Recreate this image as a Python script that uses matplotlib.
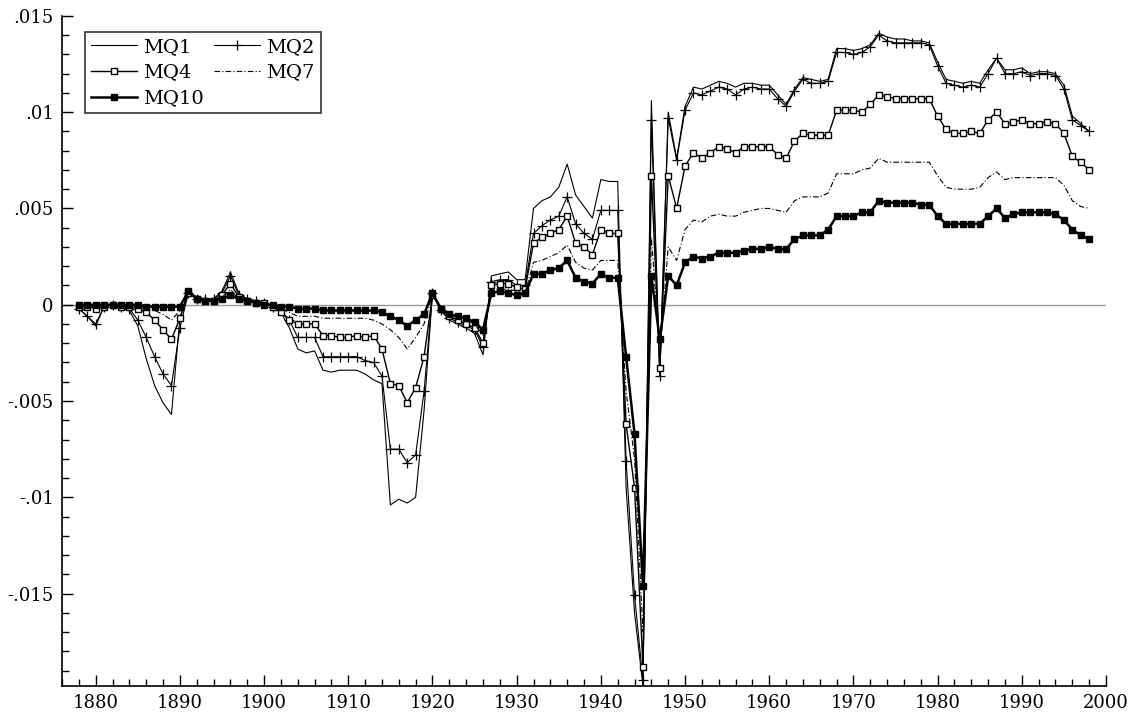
import numpy as np
import matplotlib
matplotlib.use("Agg")
import matplotlib.pyplot as plt
from matplotlib.ticker import MultipleLocator

plt.rcParams['font.family'] = ['DejaVu Serif']

years = np.arange(1878, 1999)

mq1 = [
    -0.0002, -0.0006, -0.0011, -0.0001, 0.0000, -0.0001, -0.0003, -0.0011, -0.0028, -0.0042,  # 1878-1887
    -0.0051, -0.0057, -0.0007, 0.0007, 0.0004, 0.0003, 0.0003, 0.0007, 0.0017, 0.0006,  # 1888-1897
    0.0003, 0.0002, 0.0001, -0.0001, -0.0004, -0.0012, -0.0023, -0.0025, -0.0024, -0.0034,  # 1898-1907
    -0.0035, -0.0034, -0.0034, -0.0034, -0.0036, -0.0039, -0.0041, -0.0104, -0.0101, -0.0103,  # 1908-1917
    -0.0100, -0.0055, 0.0006, -0.0003, -0.0008, -0.0010, -0.0012, -0.0015, -0.0026, 0.0015,  # 1918-1927
    0.0016, 0.0017, 0.0013, 0.0013, 0.0050, 0.0054, 0.0056, 0.0061, 0.0073, 0.0057,  # 1928-1937
    0.0051, 0.0045, 0.0065, 0.0064, 0.0064, -0.0095, -0.0160, -0.0198, 0.0106, -0.0037,  # 1938-1947
    0.0100, 0.0076, 0.0103, 0.0113, 0.0112, 0.0114, 0.0116, 0.0115, 0.0113, 0.0115,  # 1948-1957
    0.0115, 0.0114, 0.0114, 0.0109, 0.0104, 0.0112, 0.0118, 0.0117, 0.0116, 0.0117,  # 1958-1967
    0.0133, 0.0133, 0.0132, 0.0133, 0.0135, 0.0141, 0.0139, 0.0138, 0.0138, 0.0137,  # 1968-1977
    0.0137, 0.0136, 0.0126, 0.0117, 0.0116, 0.0115, 0.0116, 0.0115, 0.0122, 0.0128,  # 1978-1987
    0.0122, 0.0122, 0.0123, 0.0120, 0.0121, 0.0121, 0.0120, 0.0114, 0.0098, 0.0094,  # 1988-1997
    0.0090,
]

mq2 = [
    -0.0002, -0.0006, -0.0010, -0.0001, 0.0000, -0.0001, -0.0002, -0.0008, -0.0017, -0.0027,
    -0.0036, -0.0042, -0.0012, 0.0006, 0.0003, 0.0003, 0.0003, 0.0006, 0.0015, 0.0005,
    0.0003, 0.0002, 0.0001, -0.0001, -0.0003, -0.0008, -0.0017, -0.0017, -0.0017, -0.0027,
    -0.0027, -0.0027, -0.0027, -0.0027, -0.0029, -0.0030, -0.0037, -0.0075, -0.0075, -0.0082,
    -0.0078, -0.0045, 0.0006, -0.0003, -0.0007, -0.0009, -0.0011, -0.0013, -0.0022, 0.0012,
    0.0013, 0.0013, 0.0010, 0.0010, 0.0037, 0.0041, 0.0044, 0.0046, 0.0056, 0.0042,
    0.0037, 0.0034, 0.0049, 0.0049, 0.0049, -0.0081, -0.0151, -0.0195, 0.0096, -0.0037,
    0.0097, 0.0075, 0.0101, 0.0110, 0.0109, 0.0111, 0.0113, 0.0112, 0.0109, 0.0112,
    0.0113, 0.0112, 0.0112, 0.0107, 0.0103, 0.0111, 0.0117, 0.0115, 0.0115, 0.0116,
    0.0131, 0.0131, 0.0130, 0.0131, 0.0134, 0.0140, 0.0137, 0.0136, 0.0136, 0.0136,
    0.0136, 0.0135, 0.0124, 0.0115, 0.0114, 0.0113, 0.0114, 0.0113, 0.0120, 0.0128,
    0.0120, 0.0120, 0.0121, 0.0119, 0.0120, 0.0120, 0.0119, 0.0112, 0.0096, 0.0093,
    0.0090,
]

mq4 = [
    -0.0001, -0.0001, -0.0002, -0.0001, 0.0000, -0.0001, -0.0001, -0.0002, -0.0004, -0.0008,
    -0.0013, -0.0018, -0.0007, 0.0006, 0.0003, 0.0002, 0.0002, 0.0005, 0.0011, 0.0004,
    0.0002, 0.0001, 0.0001, -0.0001, -0.0004, -0.0008, -0.0010, -0.0010, -0.0010, -0.0016,
    -0.0016, -0.0017, -0.0017, -0.0016, -0.0017, -0.0016, -0.0023, -0.0041, -0.0042, -0.0051,
    -0.0043, -0.0027, 0.0005, -0.0002, -0.0006, -0.0008, -0.0010, -0.0012, -0.0020, 0.0010,
    0.0011, 0.0011, 0.0009, 0.0008, 0.0032, 0.0035, 0.0037, 0.0039, 0.0046, 0.0032,
    0.0030, 0.0026, 0.0039, 0.0037, 0.0037, -0.0062, -0.0095, -0.0188, 0.0067, -0.0033,
    0.0067, 0.0050, 0.0072, 0.0079, 0.0076, 0.0079, 0.0082, 0.0081, 0.0079, 0.0082,
    0.0082, 0.0082, 0.0082, 0.0078, 0.0076, 0.0085, 0.0089, 0.0088, 0.0088, 0.0088,
    0.0101, 0.0101, 0.0101, 0.0100, 0.0104, 0.0109, 0.0108, 0.0107, 0.0107, 0.0107,
    0.0107, 0.0107, 0.0098, 0.0091, 0.0089, 0.0089, 0.0090, 0.0089, 0.0096, 0.0100,
    0.0094, 0.0095, 0.0096, 0.0094, 0.0094, 0.0095, 0.0094, 0.0089, 0.0077, 0.0074,
    0.0070,
]

mq7 = [
    0.0000, -0.0001, -0.0001, 0.0000, 0.0000, 0.0000, -0.0001, -0.0001, -0.0002, -0.0003,
    -0.0005, -0.0008, -0.0003, 0.0006, 0.0003, 0.0002, 0.0002, 0.0004, 0.0008, 0.0003,
    0.0002, 0.0001, 0.0000, -0.0001, -0.0002, -0.0004, -0.0006, -0.0006, -0.0006, -0.0007,
    -0.0007, -0.0007, -0.0007, -0.0007, -0.0007, -0.0008, -0.0010, -0.0013, -0.0017, -0.0023,
    -0.0017, -0.0010, 0.0005, -0.0002, -0.0005, -0.0007, -0.0008, -0.0010, -0.0016, 0.0008,
    0.0008, 0.0008, 0.0007, 0.0006, 0.0022, 0.0023, 0.0025, 0.0027, 0.0031, 0.0022,
    0.0019, 0.0018, 0.0023, 0.0023, 0.0023, -0.0045, -0.0080, -0.0170, 0.0035, -0.0025,
    0.0030, 0.0023, 0.0039, 0.0044, 0.0043, 0.0046, 0.0047, 0.0046, 0.0046, 0.0048,
    0.0049, 0.0050, 0.0050, 0.0049, 0.0048, 0.0054, 0.0056, 0.0056, 0.0056, 0.0058,
    0.0068, 0.0068, 0.0068, 0.0070, 0.0071, 0.0076, 0.0074, 0.0074, 0.0074, 0.0074,
    0.0074, 0.0074, 0.0067, 0.0061, 0.0060, 0.0060, 0.0060, 0.0061, 0.0066, 0.0069,
    0.0065, 0.0066, 0.0066, 0.0066, 0.0066, 0.0066, 0.0066, 0.0062, 0.0054, 0.0051,
    0.0050,
]

mq10 = [
    0.0000, 0.0000, 0.0000, 0.0000, 0.0000, 0.0000, 0.0000, 0.0000, -0.0001, -0.0001,
    -0.0001, -0.0001, -0.0001, 0.0007, 0.0003, 0.0002, 0.0002, 0.0003, 0.0005, 0.0003,
    0.0002, 0.0001, 0.0000, 0.0000, -0.0001, -0.0001, -0.0002, -0.0002, -0.0002, -0.0003,
    -0.0003, -0.0003, -0.0003, -0.0003, -0.0003, -0.0003, -0.0004, -0.0006, -0.0008, -0.0011,
    -0.0008, -0.0005, 0.0006, -0.0002, -0.0005, -0.0006, -0.0007, -0.0009, -0.0013, 0.0006,
    0.0007, 0.0006, 0.0005, 0.0006, 0.0016, 0.0016, 0.0018, 0.0019, 0.0023, 0.0014,
    0.0012, 0.0011, 0.0016, 0.0014, 0.0014, -0.0027, -0.0067, -0.0146, 0.0015, -0.0018,
    0.0015, 0.0010, 0.0022, 0.0025, 0.0024, 0.0025, 0.0027, 0.0027, 0.0027, 0.0028,
    0.0029, 0.0029, 0.0030, 0.0029, 0.0029, 0.0034, 0.0036, 0.0036, 0.0036, 0.0039,
    0.0046, 0.0046, 0.0046, 0.0048, 0.0048, 0.0054, 0.0053, 0.0053, 0.0053, 0.0053,
    0.0052, 0.0052, 0.0046, 0.0042, 0.0042, 0.0042, 0.0042, 0.0042, 0.0046, 0.0050,
    0.0045, 0.0047, 0.0048, 0.0048, 0.0048, 0.0048, 0.0047, 0.0044, 0.0039, 0.0036,
    0.0034,
]

ytick_vals = [-0.015, -0.01, -0.005, 0, 0.005, 0.01, 0.015]
ytick_labels = ['-.015', '-.01', '-.005', '0', '.005', '.01', '.015']
xtick_vals = list(range(1880, 2001, 10))

fig = plt.figure(figsize=(11.36, 7.22), dpi=100)
ax = fig.add_axes([0.0546, 0.0499, 0.919, 0.9281])

ax.axhline(0, color='#999999', lw=1.0, zorder=1)

l1, = ax.plot(years, mq1, color='k', lw=0.8, label='MQ1')
l2, = ax.plot(years, mq2, color='k', lw=0.8, marker='+', ms=7, mew=0.9, label='MQ2')
l4, = ax.plot(years, mq4, color='k', lw=1.0, marker='s', ms=4.5, mfc='white', mew=1.0, label='MQ4')
l7, = ax.plot(years, mq7, color='k', lw=0.8, dashes=(5, 2, 1, 2), label='MQ7')
l10, = ax.plot(years, mq10, color='k', lw=1.8, marker='s', ms=4.5, label='MQ10')

ax.set_xlim(1876, 2000)
ax.set_ylim(-0.0198, 0.015)

ax.set_xticks(xtick_vals)
ax.xaxis.set_minor_locator(MultipleLocator(2))
ax.set_yticks(ytick_vals)
ax.set_yticklabels(ytick_labels)
ax.yaxis.set_minor_locator(MultipleLocator(0.001))

ax.tick_params(which='major', direction='in', length=8, width=1, labelsize=13, pad=6)
ax.tick_params(which='minor', direction='in', length=5, width=1)

for side in ['top', 'right']:
    ax.spines[side].set_visible(False)
for side in ['left', 'bottom']:
    ax.spines[side].set_linewidth(1.2)

leg = ax.legend([l1, l4, l10, l2, l7], ['MQ1', 'MQ4', 'MQ10', 'MQ2', 'MQ7'],
                ncol=2, loc='upper left', bbox_to_anchor=(0.022, 0.976),
                fontsize=14, frameon=True, fancybox=False, edgecolor='k',
                handlelength=2.4, handletextpad=0.3, columnspacing=0.5,
                labelspacing=0.4, borderpad=0.3, borderaxespad=0)
leg.get_frame().set_linewidth(1.2)

fig.savefig('out.png', dpi=100)
